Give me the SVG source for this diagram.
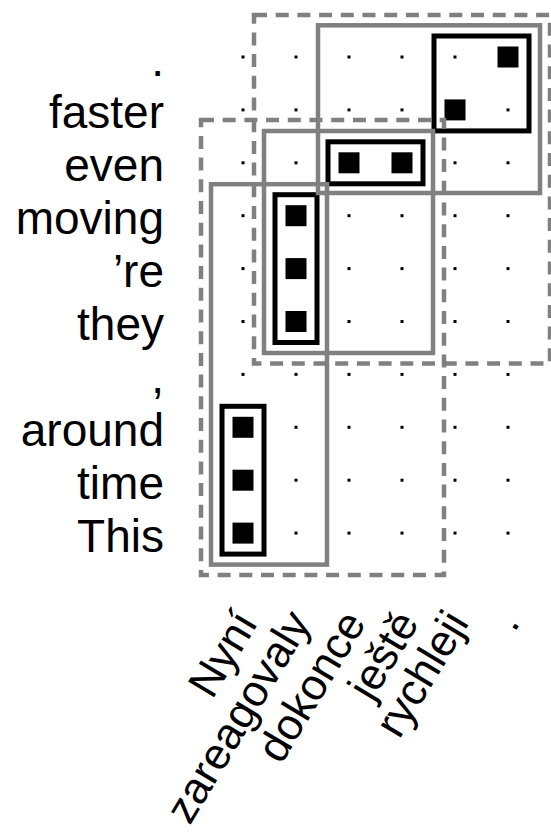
<svg xmlns="http://www.w3.org/2000/svg" width="551" height="837" viewBox="0 0 551 837">
<style>
  .lbl { font-family: "Liberation Sans", Arial, sans-serif; font-size: 46px; fill: #000; }
  .row { text-anchor: end; }
  .col { text-anchor: end; font-size: 44px; }
  .dot { fill: #000; }
  .sq { fill: #000; }
  .blk { fill: none; stroke: #000; stroke-width: 5; }
  .gry { fill: none; stroke: #808080; stroke-width: 4.5; }
  .dsh { fill: none; stroke: #808080; stroke-width: 4.5; stroke-dasharray: 13 8.7; }
</style>
<defs>
  <rect id="d" x="-1.5" y="-1.5" width="3" height="3" class="dot"/>
  <rect id="s" x="-10.5" y="-10.5" width="21" height="21" class="sq"/>
</defs>
<rect width="551" height="837" fill="#fff"/>

<g id="row-labels" class="lbl row">
  <text x="164" y="75.5">.</text>
  <text x="164" y="128.4">faster</text>
  <text x="164" y="181.3">even</text>
  <text x="164" y="234.2">moving</text>
  <text x="164" y="287.1">’re</text>
  <text x="164" y="340">they</text>
  <text x="164" y="392.9">,</text>
  <text x="164" y="445.8">around</text>
  <text x="164" y="498.7">time</text>
  <text x="164" y="551.6">This</text>
</g>

<g id="col-labels" class="lbl col">
  <text transform="translate(246,615) rotate(-59)" y="15">Nyní</text>
  <text transform="translate(299,615) rotate(-59)" y="15">zareagovaly</text>
  <text transform="translate(354,615) rotate(-59)" y="15">dokonce</text>
  <text transform="translate(407,615) rotate(-59)" y="15">ještě</text>
  <text transform="translate(457,615) rotate(-59)" y="15">rychleji</text>
  <text transform="translate(508,615) rotate(-59)" y="15">.</text>
</g>

<g id="grid-dots">
  <use href="#d" x="243" y="57"/><use href="#d" x="296" y="57"/><use href="#d" x="349" y="57"/><use href="#d" x="402" y="57"/><use href="#d" x="455" y="57"/>
  <use href="#d" x="243" y="109.9"/><use href="#d" x="296" y="109.9"/><use href="#d" x="349" y="109.9"/><use href="#d" x="402" y="109.9"/><use href="#d" x="508" y="109.9"/>
  <use href="#d" x="243" y="162.8"/><use href="#d" x="296" y="162.8"/><use href="#d" x="455" y="162.8"/><use href="#d" x="508" y="162.8"/>
  <use href="#d" x="243" y="215.7"/><use href="#d" x="349" y="215.7"/><use href="#d" x="402" y="215.7"/><use href="#d" x="455" y="215.7"/><use href="#d" x="508" y="215.7"/>
  <use href="#d" x="243" y="268.6"/><use href="#d" x="349" y="268.6"/><use href="#d" x="402" y="268.6"/><use href="#d" x="455" y="268.6"/><use href="#d" x="508" y="268.6"/>
  <use href="#d" x="243" y="321.5"/><use href="#d" x="349" y="321.5"/><use href="#d" x="402" y="321.5"/><use href="#d" x="455" y="321.5"/><use href="#d" x="508" y="321.5"/>
  <use href="#d" x="243" y="374.4"/><use href="#d" x="296" y="374.4"/><use href="#d" x="349" y="374.4"/><use href="#d" x="402" y="374.4"/><use href="#d" x="455" y="374.4"/><use href="#d" x="508" y="374.4"/>
  <use href="#d" x="296" y="427.3"/><use href="#d" x="349" y="427.3"/><use href="#d" x="402" y="427.3"/><use href="#d" x="455" y="427.3"/><use href="#d" x="508" y="427.3"/>
  <use href="#d" x="296" y="480.2"/><use href="#d" x="349" y="480.2"/><use href="#d" x="402" y="480.2"/><use href="#d" x="455" y="480.2"/><use href="#d" x="508" y="480.2"/>
  <use href="#d" x="296" y="533.1"/><use href="#d" x="349" y="533.1"/><use href="#d" x="402" y="533.1"/><use href="#d" x="455" y="533.1"/><use href="#d" x="508" y="533.1"/>
</g>

<g id="alignments">
  <use href="#s" x="508" y="57"/>
  <use href="#s" x="455" y="109.9"/>
  <use href="#s" x="349" y="162.8"/>
  <use href="#s" x="402" y="162.8"/>
  <use href="#s" x="296" y="215.7"/>
  <use href="#s" x="296" y="268.6"/>
  <use href="#s" x="296" y="321.5"/>
  <use href="#s" x="243" y="427.3"/>
  <use href="#s" x="243" y="480.2"/>
  <use href="#s" x="243" y="533.1"/>
</g>

<g id="black-boxes">
  <rect id="box-faster" class="blk" x="434" y="36" width="95" height="94.9"/>
  <rect id="box-even" class="blk" x="328" y="141.8" width="95" height="42"/>
  <rect id="box-moving" class="blk" x="275" y="194.7" width="42" height="147.8"/>
  <rect id="box-this" class="blk" x="222" y="406.3" width="42" height="147.8"/>
</g>

<g id="gray-boxes">
  <rect id="gbox-top" class="gry" x="318" y="25.3" width="222" height="167.7"/>
  <rect id="gbox-mid" class="gry" x="264" y="131" width="169" height="222"/>
  <rect id="gbox-low" class="gry" x="211" y="184.2" width="116" height="380.4"/>
</g>

<g id="dashed-boxes">
  <rect id="dbox-top" class="dsh" x="254" y="15" width="296" height="348.5"/>
  <rect id="dbox-low" class="dsh" x="201" y="120" width="243" height="455"/>
</g>
</svg>
